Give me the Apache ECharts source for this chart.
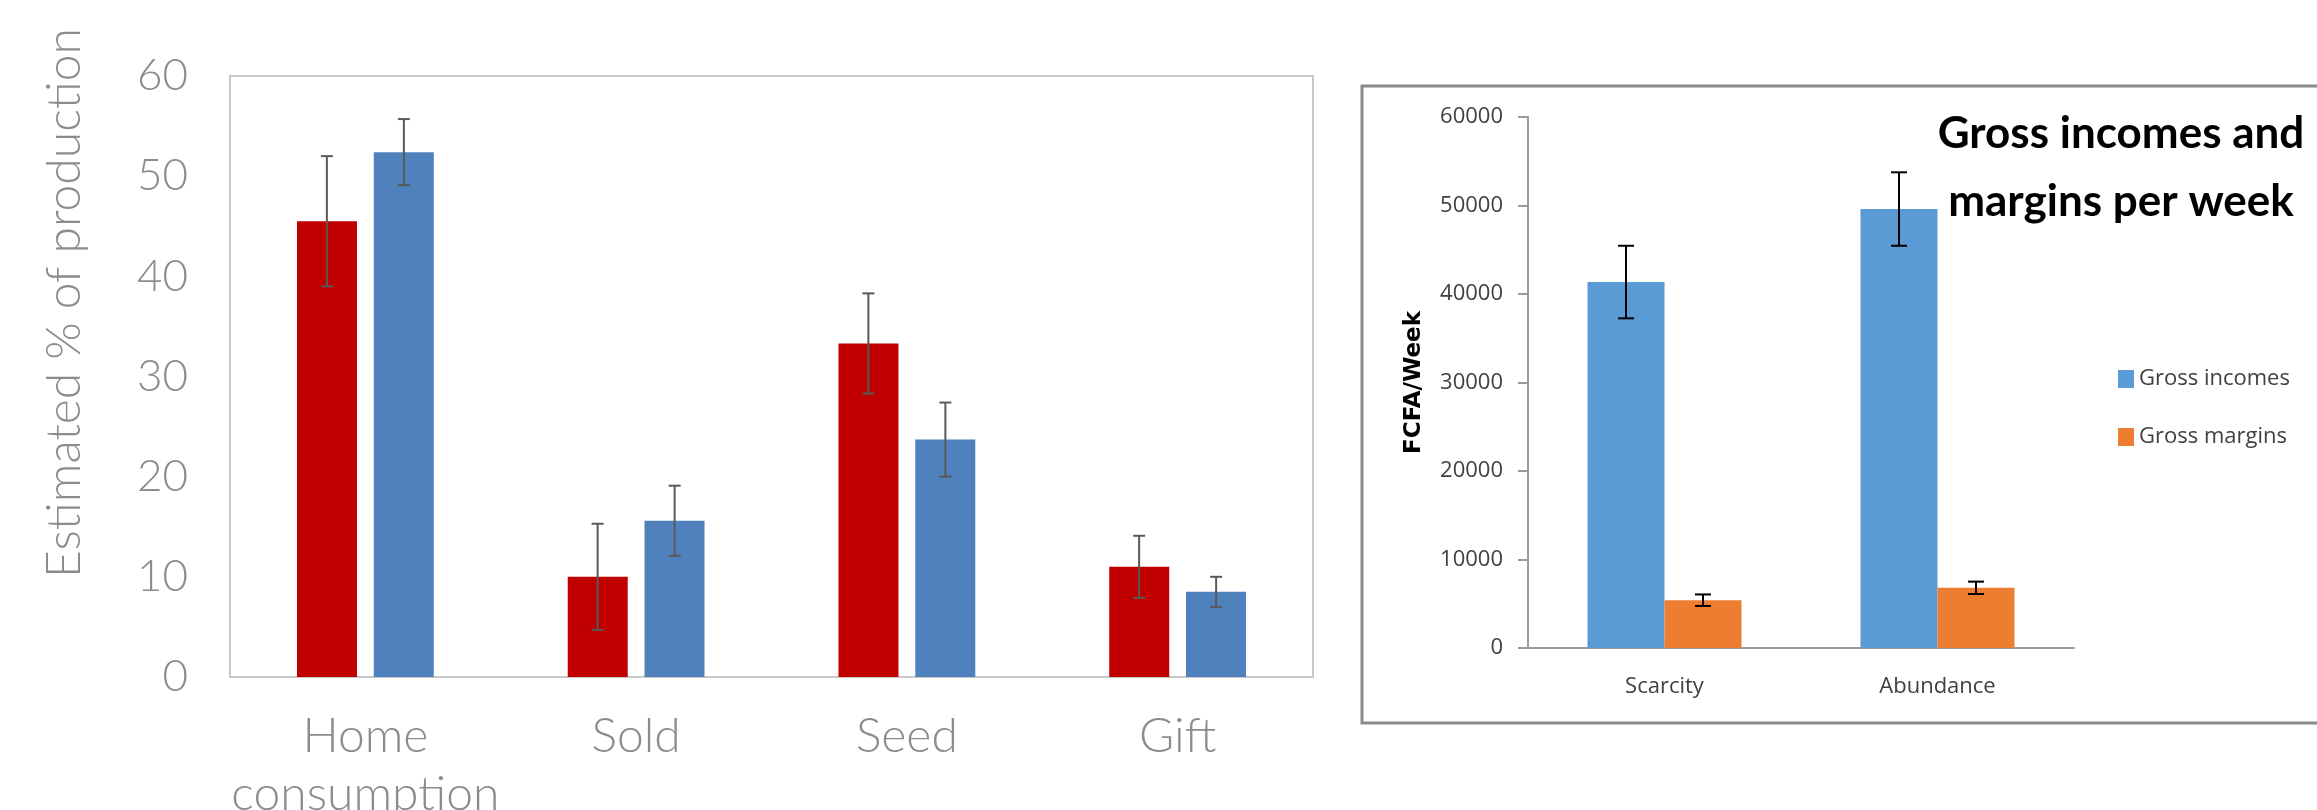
<!DOCTYPE html>
<html>
<head>
<meta charset="utf-8">
<script src="https://cdn.jsdelivr.net/npm/echarts@6/dist/echarts.min.js"></script>
<style>
  html, body { margin: 0; padding: 0; background: #fff; }
  #myChart { width: 2317px; height: 810px; }
</style>
</head>
<body>
<div id="myChart"></div>
<script>
// left chart: share of production
var useCats = ['Home\nconsumption', 'Sold', 'Seed', 'Gift'];
var redMeans = [45.5, 10.0, 33.3, 11.0];
var redErr = [6.5, 5.3, 5.0, 3.1];
var blueMeans = [52.4, 15.6, 23.7, 8.5];
var blueErr = [3.3, 3.5, 3.7, 1.5];
var pctTicks = [0, 60, 10];

// right chart: incomes and margins
var seasonCats = ['Scarcity', 'Abundance'];
var incomes = [41350, 49600];
var incomeErr = [4100, 4150];
var margins = [5400, 6800];
var marginErr = [650, 700];
var fcfaTicks = [0, 60000, 10000];

function errRows(means, errs) {
  return means.map(function (m, i) { return [i, m + errs[i], m - errs[i]]; });
}

// error bar drawn at a fixed offset from the category centre
function errorBar(offset, cap, color) {
  return function (params, api) {
    var hi = api.coord([api.value(0), api.value(1)]);
    var lo = api.coord([api.value(0), api.value(2)]);
    var x = hi[0] + offset;
    var st = { stroke: color, lineWidth: 2 };
    return {
      type: 'group',
      children: [
        { type: 'line', shape: { x1: x, y1: hi[1], x2: x, y2: lo[1] }, style: st },
        { type: 'line', shape: { x1: x - cap / 2, y1: hi[1], x2: x + cap / 2, y2: hi[1] }, style: st },
        { type: 'line', shape: { x1: x - cap / 2, y1: lo[1], x2: x + cap / 2, y2: lo[1] }, style: st }
      ]
    };
  };
}

var grey = '#8c8c8c';
var dark = '#404040';

var option = {
  animation: false,
  backgroundColor: '#fff',
  title: {
    text: 'Gross incomes and\nmargins per week',
    left: 2121,
    top: 100,
    textAlign: 'center',
    padding: 0,
    textStyle: { fontFamily: 'Lato', fontWeight: 'bold', fontSize: 44, lineHeight: 68, color: '#000' }
  },
  legend: {
    data: ['Gross incomes', 'Gross margins'],
    orient: 'vertical',
    left: 2118,
    top: 368,
    padding: 0,
    itemWidth: 16,
    itemHeight: 18,
    itemGap: 36,
    icon: 'rect',
    textStyle: { fontFamily: 'Open Sans', fontSize: 22, lineHeight: 18, color: dark }
  },
  graphic: [{
    type: 'rect',
    shape: { x: 1362, y: 86, width: 1000, height: 637 },
    style: { fill: 'none', stroke: '#8a8a8a', lineWidth: 3 },
    z: -1
  }],
  grid: [
    {
      left: 230, right: 1004, top: 76, bottom: 133, outerBoundsMode: 'none',
      show: true, borderColor: '#c8c8c8', borderWidth: 2
    },
    { left: 1528, right: 243, top: 117, bottom: 162, outerBoundsMode: 'none' }
  ],
  xAxis: [
    {
      gridIndex: 0, type: 'category', data: useCats,
      axisLine: { show: false }, axisTick: { show: false },
      axisLabel: { interval: 0, margin: 31, fontFamily: 'Lato', fontWeight: 300, fontSize: 48, lineHeight: 58, color: grey }
    },
    {
      gridIndex: 1, type: 'category', data: seasonCats,
      axisLine: { lineStyle: { color: '#9a9a9a', width: 2 } },
      axisTick: { length: 10, lineStyle: { color: '#9a9a9a', width: 2 } },
      axisLabel: { interval: 0, margin: 28, fontFamily: 'Open Sans', fontSize: 22, color: dark }
    }
  ],
  yAxis: [
    {
      gridIndex: 0, type: 'value', min: pctTicks[0], max: pctTicks[1], interval: pctTicks[2],
      name: 'Estimated % of production', nameLocation: 'middle', nameGap: 141,
      nameTextStyle: { fontFamily: 'Lato', fontWeight: 300, fontSize: 48, color: grey, padding: [0, 0, 0, 147] },
      axisLine: { show: false }, axisTick: { show: false }, splitLine: { show: false },
      axisLabel: { margin: 42, fontFamily: 'Lato', fontWeight: 300, fontSize: 44, color: grey }
    },
    {
      gridIndex: 1, type: 'value', min: fcfaTicks[0], max: fcfaTicks[1], interval: fcfaTicks[2],
      name: 'FCFA/Week', nameLocation: 'middle', nameGap: 102,
      nameTextStyle: { fontFamily: 'DejaVu Sans', fontWeight: 'bold', fontSize: 23, color: '#000' },
      axisLine: { show: true, lineStyle: { color: '#9a9a9a', width: 2 } },
      axisTick: { show: true, length: 10, lineStyle: { color: '#9a9a9a', width: 2 } },
      splitLine: { show: false },
      axisLabel: {
        margin: 25, fontFamily: 'Open Sans', fontSize: 22, color: dark,
        formatter: function (v) { return String(v); }
      }
    }
  ],
  series: [
    {
      name: 'Series 1', type: 'bar', xAxisIndex: 0, yAxisIndex: 0,
      data: redMeans, barWidth: 60, barGap: '28%', itemStyle: { color: '#C00000' }
    },
    {
      name: 'Series 2', type: 'bar', xAxisIndex: 0, yAxisIndex: 0,
      data: blueMeans, barWidth: 60, barGap: '28%', itemStyle: { color: '#4F81BD' }
    },
    {
      type: 'custom', xAxisIndex: 0, yAxisIndex: 0, z: 5,
      renderItem: errorBar(-38.5, 12, '#595959'), data: errRows(redMeans, redErr)
    },
    {
      type: 'custom', xAxisIndex: 0, yAxisIndex: 0, z: 5,
      renderItem: errorBar(38.5, 12, '#595959'), data: errRows(blueMeans, blueErr)
    },
    {
      name: 'Gross incomes', type: 'bar', xAxisIndex: 1, yAxisIndex: 1,
      data: incomes, barWidth: 77, barGap: '0%', itemStyle: { color: '#5B9BD5' }
    },
    {
      name: 'Gross margins', type: 'bar', xAxisIndex: 1, yAxisIndex: 1,
      data: margins, barWidth: 77, barGap: '0%', itemStyle: { color: '#ED7D31' }
    },
    {
      type: 'custom', xAxisIndex: 1, yAxisIndex: 1, z: 5,
      renderItem: errorBar(-38.5, 16, '#000'), data: errRows(incomes, incomeErr)
    },
    {
      type: 'custom', xAxisIndex: 1, yAxisIndex: 1, z: 5,
      renderItem: errorBar(38.5, 16, '#000'), data: errRows(margins, marginErr)
    }
  ]
};

echarts.init(document.getElementById('myChart')).setOption(option);
</script>
</body>
</html>
